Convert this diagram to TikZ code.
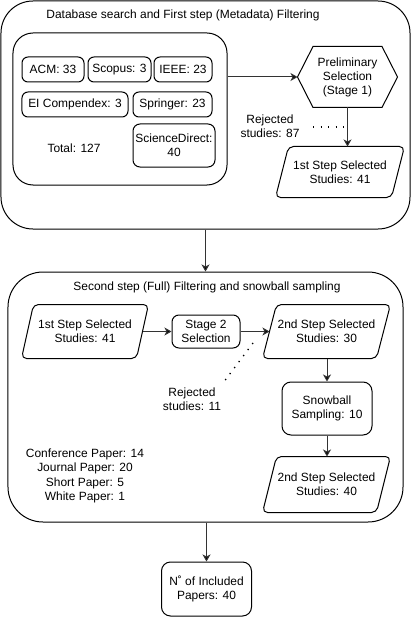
\documentclass[tikz,border=0pt]{standalone}
\usepackage{fontspec}
\setmainfont{Liberation Sans}
\usetikzlibrary{calc,arrows.meta}
\newcommand\paragram[2]{%
  \draw[rounded corners=5bp] (#1.south west) -- ($(#1.north west)+(#2,0)$) -- (#1.north east) -- ($(#1.south east)-(#2,0)$) -- cycle;}
\begin{document}
\begin{tikzpicture}[x=1bp,y=-1bp,line width=1bp,
  font=\fontsize{12}{14}\selectfont,
  rbox/.style={draw, rounded corners=#1, inner sep=0pt, align=center},
  shapebox/.style={inner sep=0pt, align=center},
  txt/.style={inner sep=0pt, align=center},
  arr/.style={draw=black!80, -{Stealth[length=7bp,width=8bp,inset=2bp,fill=black]}},
  dotline/.style={line width=1.3bp, dash pattern=on 1.3bp off 6.2bp}]
\useasboundingbox (0,0) rectangle (412,617);
% ---- box 1
\node[rbox=32bp, minimum width=409bp, minimum height=228bp] (box1) at (205.5,115) {};
\node[txt] (t1) at (183,15) {Database search and First step (Metadata) Filtering};
\node[rbox=20bp, minimum width=214bp, minimum height=152bp] (db) at (120,109) {};
\node[rbox=6bp, minimum width=62bp, minimum height=25bp] (acm) at (53,69.5) {ACM: 33};
\node[rbox=6bp, minimum width=63bp, minimum height=25bp] (scopus) at (119.5,69.5) {Scopus: 3};
\node[rbox=6bp, minimum width=58bp, minimum height=25bp] (ieee) at (183,69.5) {IEEE: 23};
\node[rbox=6bp, minimum width=106bp, minimum height=25bp] (ei) at (75,104.5) {EI Compendex: 3};
\node[rbox=6bp, minimum width=79bp, minimum height=25bp] (springer) at (172.5,104.5) {Springer: 23};
\node[rbox=7bp, minimum width=82bp, minimum height=43bp] (sd) at (174,145.5) {ScienceDirect:\\40};
\node[txt] (total) at (74,148) {Total: 127};
\node[shapebox, minimum width=99bp, minimum height=60bp] (hex) at (347.5,77) {Preliminary\\Selection\\(Stage 1)};
\draw (hex.west) -- ($(hex.north west)+(15.5,0)$) -- ($(hex.north east)-(15.5,0)$) -- (hex.east) -- ($(hex.south east)-(15.5,0)$) -- ($(hex.south west)+(15.5,0)$) -- cycle;
\node[shapebox, minimum width=128bp, minimum height=50bp] (p1) at (340,172) {1st Step Selected\\Studies: 41};
\paragram{p1}{13}
\node[txt] (rej1) at (270,126) {Rejected\\studies: 87};
\coordinate (d1) at (313,127);
\draw[arr] (db.east |- hex.west) -- (hex.west);
\draw[arr] (hex.south) -- (hex.south |- p1.north);
\draw[dotline] (d1) -- (d1 -| hex.south);
% ---- box 2
\node[rbox=35bp, minimum width=395bp, minimum height=250bp] (box2) at (205.5,397) {};
\node[txt] (t2) at (207,287) {Second step (Full) Filtering and snowball sampling};
\node[shapebox, minimum width=126bp, minimum height=53bp] (p21) at (85,331.5) {1st Step Selected\\Studies: 41};
\paragram{p21}{12}
\node[rbox=7bp, minimum width=68bp, minimum height=33bp] (st2) at (206,331.5) {Stage 2\\Selection};
\node[shapebox, minimum width=127bp, minimum height=53bp] (p22) at (326.5,331.5) {2nd Step Selected\\Studies: 30};
\paragram{p22}{14}
\node[txt] (rej2) at (192,399) {Rejected\\studies: 11};
\coordinate (d2a) at (253,343);
\coordinate (d2b) at (223,383);
\node[rbox=9bp, minimum width=90bp, minimum height=53bp] (snow) at (327,408.5) {Snowball\\Sampling: 10};
\node[shapebox, minimum width=127bp, minimum height=55bp] (p23) at (326.5,484.5) {2nd Step Selected\\Studies: 40};
\paragram{p23}{14}
\node[txt, font=\fontsize{12}{14.5}\selectfont] (papers) at (85,476) {Conference Paper: 14\\Journal Paper: 20\\Short Paper: 5\\White Paper: 1};
\draw[arr] ($(p21.east)+(-6,0)$) -- (st2.west);
\draw[arr] (st2.east) -- ($(p22.west)+(7,0)$);
\draw[dotline] (d2a) -- (d2b);
\draw[arr] (p22.south -| snow.north) -- (snow.north);
\draw[arr] (snow.south) -- (snow.south |- p23.north);
% ---- connections between stages
\draw[arr] (box1.south) -- (box2.north);
\node[rbox=9bp, minimum width=90bp, minimum height=54bp] (nbox) at (206.5,589) {N˚ of Included\\Papers: 40};
\draw[arr] (box2.south -| nbox.north) -- (nbox.north);
\end{tikzpicture}
\end{document}
